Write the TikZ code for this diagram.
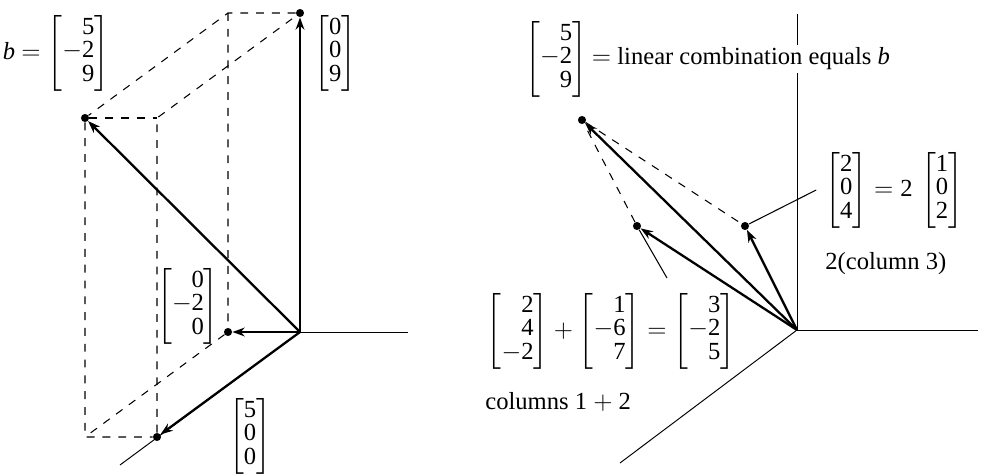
\documentclass[tikz,border=0pt]{standalone}
\usepackage{amsmath,mathtools}
\usepackage{fontspec}
\setmainfont{Liberation Serif}
\usetikzlibrary{arrows.meta,positioning}
\newcommand{\cvec}[3]{\begin{bmatrix*}[r]\text{#1}\\\text{#2}\\\text{#3}\end{bmatrix*}}
\delimiterfactor=1000
\delimitershortfall=0pt

\begin{document}
\begin{tikzpicture}[x=0.02cm, y=-0.02cm,
  axis/.style={line width=0.55pt},
  vec/.style={-{Stealth[length=7pt,width=5pt]}, line width=1.3pt},
  guide/.style={dash pattern=on 4.5pt off 4.5pt, line width=0.6pt},
  dot/.style={circle, fill, inner sep=0pt, minimum size=4.6pt},
  lab/.style={inner sep=0pt, font=\fontsize{14}{13.4}\selectfont},
  lead/.style={line width=0.6pt}]
\useasboundingbox (0,0) rectangle (985,476);
% left: the three pieces of b
\coordinate (O) at (300,332);
\coordinate (AB) at (85,437);
\coordinate (AC) at (157,118);
\coordinate (BC) at (228,13);
\coordinate (xend) at (408,332);
\coordinate (zend) at (120,465);
\node[dot] (A) at (157,437) {};
\node[dot] (B) at (228,332) {};
\node[dot] (C) at (300,13) {};
\node[dot] (b) at (85,118) {};
\draw[axis] (O) -- (xend);
\draw[axis] (O) -- (zend);
\draw[guide] (C) -- (BC) -- (b) -- (AB) -- (A) -- (AC) -- (C);
\draw[guide] (BC) -- (B) -- (AB);
\draw[guide] (b) -- (AC);
\draw[vec] (O) -- (A);
\draw[vec] (O) -- (B);
\draw[vec] (O) -- (C);
\draw[vec] (O) -- (b);
\node[lab] (blab) at (56,53) {\textit{b} $=\cvec{5}{$-$2}{9}$};
\node[lab, anchor=west] (Clab) at (314,53) {$\cvec{0}{0}{9}$};
\node[lab] (Blab) at (188,306) {$\cvec{0}{$-$2}{0}$};
\node[lab] (Alab) at (250,436) {$\cvec{5}{0}{0}$};
% right: columns 1+2 and 2(column 3)
\coordinate (O2) at (797,330);
\coordinate (ztop) at (797,14);
\coordinate (xend2) at (978,330);
\coordinate (zend2) at (620,463);
\node[dot] (b2) at (582,120) {};
\node[dot] (s12) at (637,226) {};
\node[dot] (s3) at (745,226) {};
\draw[axis] (O2) -- (ztop);
\draw[axis] (O2) -- (xend2);
\draw[axis] (O2) -- (zend2);
\draw[guide] (s12) -- (b2) -- (s3);
\draw[vec] (O2) -- (b2);
\draw[vec] (O2) -- (s12);
\draw[vec] (O2) -- (s3);
\node[lab, anchor=west] (bvec) at (525,59) {$\cvec{5}{$-$2}{9}$};
\node[lab, fill=white, inner sep=1.5pt, right=1pt of bvec]
  (lincomb) {$=$ linear combination equals \textit{b}};
\node[lab, anchor=west] (s3lab) at (825,190)
  {$\cvec{2}{0}{4}=\text{2}\,\cvec{1}{0}{2}$};
\node[lab, anchor=base west] (s3txt) at (825,270) {2(column 3)};
\node[lab] (sumlab) at (611,331)
  {$\cvec{2}{4}{$-$2}+\cvec{1}{$-$6}{7}=\cvec{3}{$-$2}{5}$};
\node[lab, anchor=base west] (s12txt) at (485,410) {columns 1 $+$ 2};
\coordinate (s12tail) at (667,278);
\draw[lead] (s3) -- ([xshift=-5pt]s3lab.west);
\draw[lead] (s12) -- (s12tail);
\end{tikzpicture}
\end{document}
